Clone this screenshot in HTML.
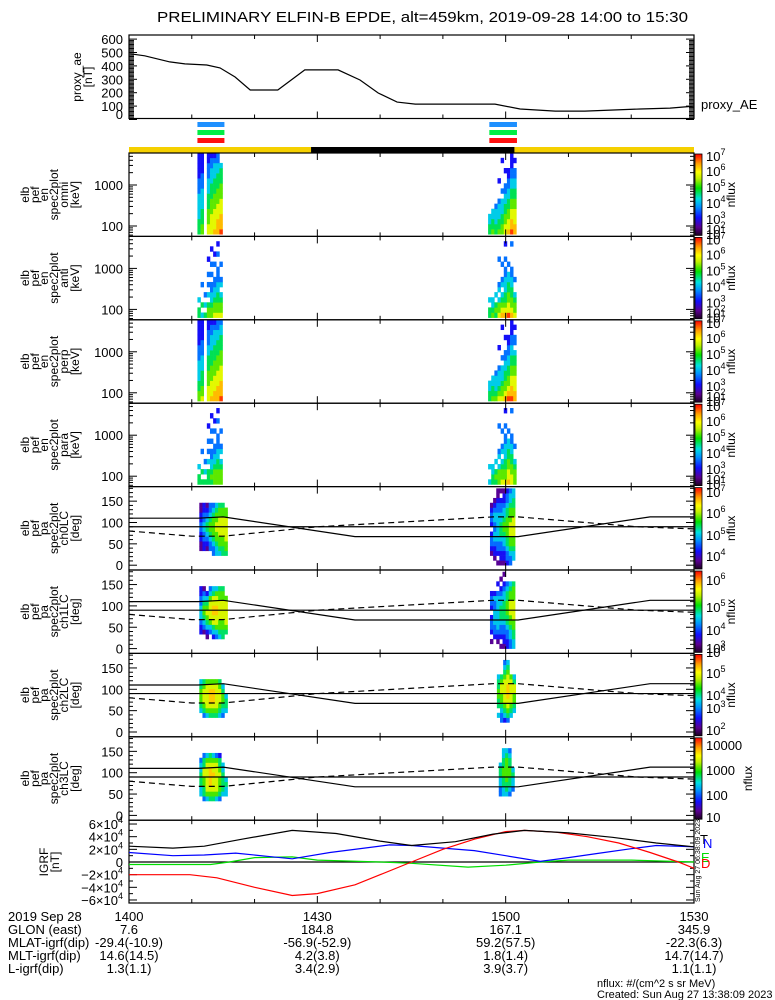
<!DOCTYPE html>
<html><head><meta charset="utf-8"><style>
html,body{margin:0;padding:0;background:#fff;}
svg{display:block;font-family:"Liberation Sans",sans-serif;}
</style></head><body>
<svg id="chart" width="775" height="1000" viewBox="0 0 775 1000" xmlns="http://www.w3.org/2000/svg">
<text x="157" y="22" font-size="15" textLength="531" lengthAdjust="spacingAndGlyphs">PRELIMINARY ELFIN-B EPDE, alt=459km, 2019-09-28 14:00 to 15:30</text>
<defs>
<linearGradient id="cbar" x1="0" y1="1" x2="0" y2="0">
<stop offset="0" stop-color="#1a0020"/><stop offset="0.1" stop-color="#5a0090"/><stop offset="0.22" stop-color="#1010ff"/><stop offset="0.35" stop-color="#0090ff"/><stop offset="0.45" stop-color="#00e0e0"/><stop offset="0.58" stop-color="#00e000"/><stop offset="0.7" stop-color="#c0f000"/><stop offset="0.78" stop-color="#ffff00"/><stop offset="0.88" stop-color="#ffa000"/><stop offset="1" stop-color="#ff0000"/>
</linearGradient>
</defs>
<g id="layer"></g>
<g font-size="13">
<text x="8" y="921">2019 Sep 28</text>
<text x="8" y="934">GLON (east)</text>
<text x="8" y="947">MLAT-igrf(dip)</text>
<text x="8" y="960">MLT-igrf(dip)</text>
<text x="8" y="973">L-igrf(dip)</text>
</g>
<text x="597" y="987" font-size="11">nflux: #/(cm^2 s sr MeV)</text>
<text x="597" y="998" font-size="11">Created: Sun Aug 27 13:38:09 2023</text>
</svg>
<script>
// ---------- data ----------
const aeTimes = [0.2,2.5,6.5,8.9,12.4,14.5,16.9,19.3,23.7,28,33.3,36.8,39.7,42.7,45.6,58.3,62.3,67.9,72.6,81.4,86.2,90];
const aeValues = [490,475,430,415,407,385,317,220,220,370,370,295,198,130,115,115,78,63,63,78,85,100];
const aeTicks = [0,100,200,300,400,500,600];
const energyChannels = [63,84,112,149,198,264,351,467,622,828,1102,1466,1951,2597,3456,4600,6122];
const energyTicks = [100,1000];
const paBinEdges = [0,11.25,22.5,33.75,45,56.25,67.5,78.75,90,101.25,112.5,123.75,135,146.25,157.5,168.75,180];
const paTicks = [0,50,100,150];
const timeTickLabels = ["1400","1430","1500","1530"];
const timeTickMinutes = [0,30,60,90];
const pass1Times = [10.9,11.4,11.9,12.4,12.9,13.4,13.9,14.4];
const pass2Times = [57.2,57.7,58.2,58.7,59.2,59.7,60.2,60.7,61.2];
const paPass1Times = [11.2,11.7,12.2,12.7,13.2,13.7,14.2,14.7,15.2];
const paPass2Times = [57.5,58.0,58.5,59.0,59.5,60.0,60.5,61.0];
const pa7Pass2Times = [58.6,59.1,59.6,60.1,60.6,61.1];
const pa8Pass2Times = [58.9,59.4,59.9,60.4,60.9];
// flux level digits (1 purple .. 9 red), low energy/pitch first
const omniP1 = ["5554444433322222","6655544443332222","","7766655544433322","7777666555444332","8777766655544432","8887776665554433","98887776665554.."];
const omniP2 = ["5544............","65544...........","554443..........","6554443...2.....","6655444.3.....2.","7766554433..2...","8776655443322...","9887766554433222","8877766554433.2."];
const antiP1 = ["55.4............","4.5...3.........","5.4.3...........","665.4.3.3..2....","6654433.3.3..2..","76654433..3.2...","7665544333..3.2.","76654.43..3....."];
const antiP2 = ["55.4............","6544............","565.4...........","7664.43....3....","87654.43..3.....","8765544433.3..2.","977665544.3.....","8766554433....3.","76654..3........"];
const perpP1 = ["6655444433322222","7665554443332222","","7776665554433322","8777666555444332","8877766655544432","8887776665554433","9888777666555443"];
const perpP2 = ["5544............","65544...........","654443..........","7654443...2.....","7665444.3.....2.","8766554433..2...","9876655443322...","9887766554433222","8877766554.33.2."];
const paraP1 = ["55.4............","5.5...3.........","5.4.3...........","555.4.3.3..2....","5654433.3.3..2..","66654433..3.2...","6665544333..3.2.","66654.43..3....."];
const paraP2 = ["4..4............","5544............","565.4...........","6664.43....3....","76654.43..3.....","7665544433.3..2.","877665544.3.....","7766554433....3.","66654..3........"];
const ch0P1 = ["...1122332211...","...2233443322...","...1234554321...","...3345665433...","..33456666543...","..44566776654...","..45667777665...","..55667777665...","..5667777766...."];
const ch0P2 = ["..12332.23321...",".1223443344321..","1.23344444433211","12233455544332.1","1223445665443221","2334556666554332","3345667776665443",".445667777665544"];
const ch1P1 = ["...2234443322...","...1345665431...","..1245676542....","...3467777643...","..24577887754...","..34677887764...","..45667777665...","..55667777665...","...56777776....."];
const ch1P2 = [".1.2332.2332....","..2334443342....",".12344444443.2..","1.23345554432.1.","12233455554432.1","22334556665543..","33445667776654..","44556677776665.."];
const ch2P1 = ["....4566654.....","...35677765.....","...46777776.....","...56788876.....","...56788876.....","...56777776.....","...45677765.....","...3456654......","....4554........"];
const ch2P2 = ["...4.5566554....","..3345667765....","..2456777776543.","..3567788877654.","...456777776....","....45667754...."];
const ch3P1 = ["....44555443....","...3556677553...","...4677777764...","...5678888765...","...5677787764...","...4677777763...","...3566676552...","....4555544.....","....4454........"];
const ch3P2 = ["....3344554.....","....4455665544..","....4556666654..","....3455665543..",".....34454......"];
const lcTimes = [0,11,15,36,62,83,90];
const lcValues = [110,110,113,67,67,113,113];
const alcTimes = [0,10,15,30,58,62,81,90];
const alcValues = [80,68,68,90,113,113,90,85];
const fTimes = [0,7,12,18,26,33,40,45,52,58,63,70,77,84,90];
const fValues = [2.5,2.2,2.5,3.6,5.0,4.5,3.3,2.6,3.2,4.4,5.0,4.6,3.9,3.0,2.4];
const dTimes = [0,9.7,14,20,26,30,36,40,45,50,55,60,63,68,73,78,83,87.5,90];
const dValues = [-2.0,-2.0,-2.5,-4.0,-5.3,-5.0,-3.6,-2.0,0,2.0,3.6,4.8,5.0,4.7,4.0,3.0,1.5,0,-1.0];
const nTimes = [0,7,12,17,22,26,32,41.5,45,50,55,60,65.5,70,75,80,84,90];
const nValues = [1.5,1.0,1.1,1.4,0.9,0.5,1.5,2.7,2.6,2.2,1.8,1.0,0.1,0.7,1.4,2.1,2.6,2.4];
const eTimes = [0,13,16,20,26,30,40,45,54,60,65.5,70,80,90];
const eValues = [-0.4,-0.4,0,0.7,0.8,0.3,0,-0.2,-0.8,-0.5,0,0.3,0.3,0];
const igrfTicks = [6,4,2,0,-2,-4,-6];
const glonValues = ["7.6","184.8","167.1","345.9"];
const mlatValues = ["-29.4(-10.9)","-56.9(-52.9)","59.2(57.5)","-22.3(6.3)"];
const mltValues = ["14.6(14.5)","4.2(3.8)","1.8(1.4)","14.7(14.7)"];
const lValues = ["1.3(1.1)","3.4(2.9)","3.9(3.7)","1.1(1.1)"];

// ---------- helpers ----------
const NS = "http://www.w3.org/2000/svg";
const L = document.getElementById('layer');
const X0 = 129, X1 = 694;
const xs = t => X0 + t * (X1 - X0) / 90;
const P = [153,236.4,319.8,403.2,486.6,570,653.4,736.8,820.2];
const H = 83.4;
function el(tag, attrs, parent) {
  const e = document.createElementNS(NS, tag);
  for (const k in attrs) e.setAttribute(k, attrs[k]);
  (parent || L).appendChild(e);
  return e;
}
const stops = [[0,[26,0,32]],[0.1,[90,0,144]],[0.22,[16,16,255]],[0.35,[0,144,255]],[0.45,[0,224,224]],[0.58,[0,224,0]],[0.7,[192,240,0]],[0.78,[255,255,0]],[0.88,[255,160,0]],[1,[255,0,0]]];
function cmap(v) {
  for (let i = 1; i < stops.length; i++) {
    if (v <= stops[i][0]) {
      const a = stops[i-1], b = stops[i], f = (v - a[0]) / (b[0] - a[0]);
      const c = a[1].map((x, j) => Math.round(x + (b[1][j] - x) * f));
      return `rgb(${c[0]},${c[1]},${c[2]})`;
    }
  }
  return 'rgb(255,0,0)';
}
function txt(x, y, s, size, anchor, name) {
  const t = el('text', {x: x, y: y, 'font-size': size, 'text-anchor': anchor || 'start'});
  
  
  t.textContent = s;
  return t;
}
function timeTicks(top, bot) {
  for (let m = 0; m <= 90; m += 10) {
    const len = (m % 30 === 0) ? 7 : 4;
    const a = el('line', {x1: xs(m), x2: xs(m), y1: bot, y2: bot - len, stroke: '#000'});
    
    
    const b = el('line', {x1: xs(m), x2: xs(m), y1: top, y2: top + len, stroke: '#000'});
    
    
  }
}
function frame(top, bot, name) {
  const r = el('rect', {x: X0, y: top, width: X1 - X0, height: bot - top, fill: 'none', stroke: '#000', 'stroke-width': 1.2});
  
  
}
function ylabel(cx, cy, lines, xsList, name) {
  lines.forEach((s, i) => {
    const t = el('text', {x: 0, y: 0, 'font-size': 12, 'text-anchor': 'middle', transform: `translate(${xsList[i]},${cy}) rotate(-90)`});
    
    
    t.textContent = s;
  });
}
function polyline(times, values, ymap, color, dash, name) {
  const pts = times.map((t, i) => xs(t).toFixed(1) + ',' + ymap(values[i]).toFixed(1)).join(' ');
  const p = el('polyline', {points: pts, fill: 'none', stroke: color, 'stroke-width': 1.2});
  if (dash) p.setAttribute('stroke-dasharray', dash);
  
  
}
function spectro(times, cols, edgesY, name, scale) {
  cols.forEach((col, i) => {
    const t = times[i];
    for (let k = 0; k < col.length; k++) {
      const ch = col[k];
      if (ch === '.') continue;
      const v = parseInt(ch, 10) / scale;
      const y0 = edgesY(k + 1), y1 = edgesY(k);
      const r = el('rect', {x: xs(t), y: y0, width: xs(t + 0.5) - xs(t) + 0.3, height: y1 - y0 + 0.3, fill: cmap(v)});
      
      
    }
  });
}
function colorbar(top, labels, name, nfluxX) {
  const r = el('rect', {x: 695, y: top + 1, width: 7, height: H - 2, fill: 'url(#cbar)', stroke: '#000', 'stroke-width': 0.8});
  
  
  labels.forEach(l => {
    const t = el('text', {x: 706, y: l[1] + 5, 'font-size': 13});
    
    
    if (l[0].length === 1) {
      t.textContent = '10';
      const s = el('tspan', {dy: -6, 'font-size': 9}, t);
      s.textContent = l[0];
    } else t.textContent = l[0];
  });
  const n = el('text', {x: 0, y: 0, 'font-size': 12, 'text-anchor': 'middle', transform: `translate(${nfluxX},${top + H / 2}) rotate(-90)`});
  
  
  n.textContent = 'nflux';
}

// ---------- AE panel ----------
const aeTop = 35, aeBot = 118.5;
const yAE = v => 119.5 - v * 0.134;
frame(aeTop, aeBot, 'ae-panel-frame');
for (let v = 0; v <= 600; v += 10) {
  const len = v % 100 === 0 ? 8 : 5;
  const a = el('line', {x1: X0, x2: X0 + len, y1: yAE(v), y2: yAE(v), stroke: '#000'});
  
  
  const b = el('line', {x1: X1, x2: X1 - len, y1: yAE(v), y2: yAE(v), stroke: '#000'});
  
  
}
aeTicks.forEach(v => txt(123, Math.min(yAE(v), 114) + 5, String(v), 13, 'end', 'ae-tick-label'));
timeTicks(aeTop, aeBot);
polyline(aeTimes, aeValues, yAE, '#000', null, 'ae-line');
txt(701, 109, 'proxy_AE', 13, 'start', 'ae-series-label');
ylabel(0, 77, ['proxy_ae', '[nT]'], [81, 92], 'ae-y-title');

// ---------- pass bars ----------
[[122, '#1e90ff'], [130, '#00ee44'], [138, '#ff1010']].forEach(b => {
  [[10.9, 15.2], [57.4, 61.8]].forEach(p => {
    const r = el('rect', {x: xs(p[0]), y: b[0], width: xs(p[1]) - xs(p[0]), height: 5, fill: b[1]});
    
    
  });
});
[[0, 29, '#f5d000'], [29, 61.4, '#000'], [61.4, 90, '#f5d000']].forEach(s => {
  const r = el('rect', {x: xs(s[0]), y: 147, width: xs(s[1]) - xs(s[0]), height: 6, fill: s[2]});
  
  
});

// ---------- energy spectrogram panels ----------
const energyPanels = [
  ['omni', omniP1, omniP2], ['anti', antiP1, antiP2], ['perp', perpP1, perpP2], ['para', paraP1, paraP2]
];
const eLabels = [['7', 3], ['6', 18], ['5', 34], ['4', 50], ['3', 66], ['2', 76], ['1', 81]];
energyPanels.forEach((pn, i) => {
  const top = P[i], bot = P[i] + H;
  const yE = E => top + 32 + (3 - Math.log10(E)) * 41;
  spectro(pass1Times, pn[1], k => yE(energyChannels[k]), 'spec-cell-' + pn[0], 9.4);
  spectro(pass2Times, pn[2], k => yE(energyChannels[k]), 'spec-cell-' + pn[0], 9.4);
  frame(top, bot, 'energy-panel-' + pn[0]);
  for (let d = 10; d <= 10000; d *= 10) {
    for (let m = 1; m < 10; m++) {
      const E = d * m, y = yE(E);
      if (y < top || y > bot) continue;
      const len = m === 1 ? 8 : 4;
      const a = el('line', {x1: X0, x2: X0 + len, y1: y, y2: y, stroke: '#000'});
      
      
      const b = el('line', {x1: X1, x2: X1 - len, y1: y, y2: y, stroke: '#000'});
      
      
    }
  }
  energyTicks.forEach(E => txt(123, yE(E) + 5, String(E), 13, 'end', 'energy-tick-label'));
  timeTicks(top, bot);
  ylabel(0, top + H / 2, ['elb', 'pef', 'en', 'spec2plot', pn[0], '[keV]'], [29, 39, 48, 58, 68, 79], 'energy-y-title');
  colorbar(top, eLabels.map(l => [l[0], top + l[1]]), 'colorbar-' + pn[0], 735);
});

// ---------- pitch angle panels ----------
const paPanels = [
  ['ch0LC', ch0P1, ch0P2, paPass2Times, [['7', 492], ['6', 513], ['5', 535], ['4', 556]], 735],
  ['ch1LC', ch1P1, ch1P2, paPass2Times, [['6', 580], ['5', 607], ['4', 630], ['3', 648]], 735],
  ['ch2LC', ch2P1, ch2P2, pa7Pass2Times, [['6', 652], ['5', 673], ['4', 695], ['3', 708], ['2', 730]], 735],
  ['ch3LC', ch3P1, ch3P2, pa8Pass2Times, [['10000', 745], ['1000', 770], ['100', 795], ['10', 817]], 752]
];
paPanels.forEach((pn, i) => {
  const top = P[4 + i], bot = top + H;
  const yP = a => top + 78.6 - a * 0.427;
  spectro(paPass1Times, pn[1], k => yP(paBinEdges[k]), 'pa-cell-' + pn[0], 9.6);
  spectro(pn[3], pn[2], k => yP(paBinEdges[k]), 'pa-cell-' + pn[0], 9.6);
  frame(top, bot, 'pa-panel-' + pn[0]);
  for (let a = 0; a <= 180; a += 10) {
    const len = a % 50 === 0 ? 8 : 4;
    const l1 = el('line', {x1: X0, x2: X0 + len, y1: yP(a), y2: yP(a), stroke: '#000'});
    
    
    const l2 = el('line', {x1: X1, x2: X1 - len, y1: yP(a), y2: yP(a), stroke: '#000'});
    
    
  }
  paTicks.forEach(a => txt(123, yP(a) + 5, String(a), 13, 'end', 'pa-tick-label'));
  timeTicks(top, bot);
  const h = el('line', {x1: X0, x2: X1, y1: yP(90), y2: yP(90), stroke: '#000', 'stroke-width': 1.2});
  
  
  polyline(lcTimes, lcValues, yP, '#000', null, 'loss-cone-line');
  polyline(alcTimes, alcValues, yP, '#000', '6,4', 'anti-loss-cone-line');
  ylabel(0, top + H / 2, ['elb', 'pef', 'pa', 'spec2plot', pn[0], '[deg]'], [29, 39, 48, 58, 68, 79], 'pa-y-title');
  colorbar(top, pn[4], 'colorbar-' + pn[0], pn[5]);
});

// ---------- IGRF panel ----------
const gTop = 820.2, gBot = 903;
const yG = v => 862 - v * 6.33;
frame(gTop, gBot, 'igrf-panel-frame');
for (let v = -6; v <= 6; v += 1) {
  const len = v % 2 === 0 ? 8 : 4;
  const a = el('line', {x1: X0, x2: X0 + len, y1: yG(v), y2: yG(v), stroke: '#000'});
  
  
  const b = el('line', {x1: X1, x2: X1 - len, y1: yG(v), y2: yG(v), stroke: '#000'});
  
  
}
igrfTicks.forEach(v => {
  const t = el('text', {x: 123, y: yG(v) + 5, 'font-size': 13, 'text-anchor': 'end'});
  
  
  if (v === 0) { t.textContent = '0'; return; }
  t.textContent = (v < 0 ? '\u2212' : '') + Math.abs(v) + '\u00d710';
  const s = el('tspan', {dy: -6, 'font-size': 9}, t);
  s.textContent = '4';
});
timeTicks(gTop, gBot);
const z = el('line', {x1: X0, x2: X1, y1: yG(0), y2: yG(0), stroke: '#000', 'stroke-width': 1.2});


polyline(eTimes, eValues, yG, '#00dd00', null, 'igrf-e-line');
polyline(nTimes, nValues, yG, '#0000ff', null, 'igrf-n-line');
polyline(dTimes, dValues, yG, '#ff0000', null, 'igrf-d-line');
polyline(fTimes, fValues, yG, '#000', null, 'igrf-total-line');
ylabel(0, 862, ['IGRF', '[nT]'], [48, 59], 'igrf-y-title');
[['T', 839, '#000', 700], ['N', 843, '#0000ff', 703], ['E', 857, '#00dd00', 701], ['D', 863, '#ff0000', 701]].forEach(l => {
  const t = el('text', {x: l[3], y: l[1] + 5, 'font-size': 13, fill: l[2]});
  
  
  t.textContent = l[0];
});
const st = el('text', {x: 0, y: 0, 'font-size': 7, transform: 'translate(700,902) rotate(-90)'});


st.textContent = 'Sun Aug 27 06:38:09 2023';

// ---------- footer values ----------
const colX = timeTickMinutes.map(m => xs(m));
timeTickLabels.forEach((s, i) => txt(colX[i], 921, s, 13, 'middle', 'time-label'));
glonValues.forEach((s, i) => txt(colX[i], 934, s, 13, 'middle', 'glon-value'));
mlatValues.forEach((s, i) => txt(colX[i], 947, s, 13, 'middle', 'mlat-value'));
mltValues.forEach((s, i) => txt(colX[i], 960, s, 13, 'middle', 'mlt-value'));
lValues.forEach((s, i) => txt(colX[i], 973, s, 13, 'middle', 'l-value'));
</script>
</body></html>
